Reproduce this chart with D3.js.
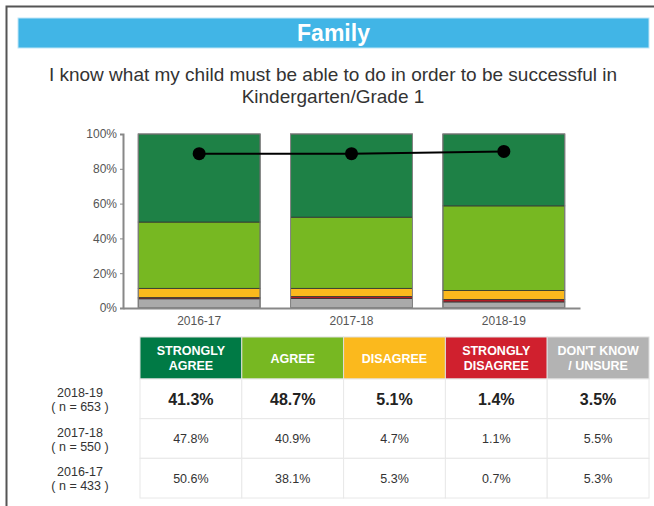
<!DOCTYPE html>
<html>
<head>
<meta charset="utf-8">
<script src="https://cdn.jsdelivr.net/npm/d3@7"></script>
<style>
  body { margin: 0; background: #fff; }
  svg { display: block; font-family: "Liberation Sans", Arial, sans-serif; }
</style>
</head>
<body>
<div id="chart"></div>
<script>
// years on the chart, oldest first
const years = ['2016-17', '2017-18', '2018-19'];
const sampleSizes = [433, 550, 653];

// response categories (table order) and their values per year
const categories = ['STRONGLY AGREE', 'AGREE', 'DISAGREE', 'STRONGLY DISAGREE', "DON'T KNOW / UNSURE"];
const headerLines = [['STRONGLY', 'AGREE'], ['AGREE'], ['DISAGREE'], ['STRONGLY', 'DISAGREE'], ["DON'T KNOW", '/ UNSURE']];
const stronglyAgree = [50.6, 47.8, 41.3];
const agree = [38.1, 40.9, 48.7];
const disagree = [5.3, 4.7, 5.1];
const stronglyDisagree = [0.7, 1.1, 1.4];
const unsure = [5.3, 5.5, 3.5];

const yTicks = [0, 20, 40, 60, 80, 100];

const barColors = ['#1e8146', '#77b822', '#fbb91d', '#b31b25', '#aaaaaa'];
const headColors = ['#007a45', '#77b822', '#fbb91d', '#d0202e', '#b3b3b3'];

const seriesValues = [stronglyAgree, agree, disagree, stronglyDisagree, unsure];

var width = 654, height = 506;

var svg = d3.select('#chart').append('svg')
  .attr('width', width)
  .attr('height', height);

// outer frame (runs off the right edge)
svg.append('path')
  .attr('d', 'M6.5,' + height + 'V6.5H' + width)
  .attr('fill', 'none')
  .attr('stroke', '#555')
  .attr('stroke-width', 2);

// title band
svg.append('rect')
  .attr('x', 18).attr('y', 18).attr('width', 631).attr('height', 30)
  .attr('fill', '#41b5e6')
  .attr('stroke', '#bfe6f7').attr('stroke-width', 1);
svg.append('text')
  .attr('x', 333.5).attr('y', 41)
  .attr('text-anchor', 'middle')
  .attr('fill', '#fff')
  .attr('font-size', 23).attr('font-weight', 'bold')
  .text('Family');

svg.append('text')
  .attr('text-anchor', 'middle')
  .attr('fill', '#333')
  .attr('font-size', 19)
  .selectAll('tspan')
  .data(['I know what my child must be able to do in order to be successful in', 'Kindergarten/Grade 1'])
  .enter().append('tspan')
  .attr('x', 333).attr('y', (d, i) => 81 + i * 22)
  .text(d => d);

// ---- stacked bars ----
var x = d3.scaleBand().domain(years).range([123, 580]).paddingInner(0.2).paddingOuter(0.1);
var y = d3.scaleLinear().domain([0, 100]).range([308, 134]);

// stack from the bottom: unsure, strongly disagree, disagree, agree, strongly agree
var rows = years.map((yr, i) => {
  var o = { year: yr };
  categories.forEach((c, j) => { o[c] = seriesValues[j][i]; });
  return o;
});
var stackKeys = categories.slice().reverse();
var stacked = d3.stack().keys(stackKeys)(rows);

var g = svg.append('g');
g.selectAll('g.layer')
  .data(stacked)
  .enter().append('g')
  .attr('class', 'layer')
  .attr('fill', d => barColors[categories.indexOf(d.key)])
  .selectAll('rect')
  .data(d => d)
  .enter().append('rect')
  .attr('x', d => x(d.data.year))
  .attr('width', x.bandwidth())
  .attr('y', d => y(d[1]))
  .attr('height', d => y(d[0]) - y(d[1]))
  .attr('stroke', '#333')
  .attr('stroke-width', 0.8);

g.selectAll('rect.outline')
  .data(years)
  .enter().append('rect')
  .attr('class', 'outline')
  .attr('x', d => x(d))
  .attr('width', x.bandwidth())
  .attr('y', y(100))
  .attr('height', y(0) - y(100))
  .attr('fill', 'none')
  .attr('stroke', '#888')
  .attr('stroke-width', 1);

// axes
var yAxis = svg.append('g')
  .attr('transform', 'translate(123,0)')
  .call(d3.axisLeft(y).tickValues(yTicks).tickSize(3).tickFormat(d => d + '%'));
yAxis.select('.domain').attr('stroke', '#888').attr('stroke-width', 2);
yAxis.selectAll('.tick line').attr('stroke', '#888');
yAxis.selectAll('text').attr('font-size', 12).attr('fill', '#555').attr('font-family', 'Liberation Sans, Arial, sans-serif');

var xAxis = svg.append('g')
  .attr('transform', 'translate(0,308)')
  .call(d3.axisBottom(x).tickSize(0).tickPadding(8));
xAxis.select('.domain').attr('stroke', '#888').attr('stroke-width', 2);
xAxis.selectAll('text').attr('font-size', 12).attr('fill', '#555').attr('font-family', 'Liberation Sans, Arial, sans-serif');

// agreement line (strongly agree + agree)
var totals = years.map((yr, i) => ({ year: yr, v: stronglyAgree[i] + agree[i] }));
svg.append('path')
  .datum(totals)
  .attr('fill', 'none')
  .attr('stroke', '#000')
  .attr('stroke-width', 2)
  .attr('d', d3.line().x(d => x(d.year) + x.bandwidth() / 2).y(d => y(d.v)));
svg.selectAll('circle.dot')
  .data(totals)
  .enter().append('circle')
  .attr('class', 'dot')
  .attr('cx', d => x(d.year) + x.bandwidth() / 2)
  .attr('cy', d => y(d.v))
  .attr('r', 6.5)
  .attr('fill', '#000');

// ---- table ----
var tableYears = years.slice().reverse();
var col = d3.scaleBand().domain(categories).range([140, 649]);
var row = d3.scaleBand().domain(tableYears).range([379, 498]);
var headTop = 337;

var head = svg.append('g');
head.selectAll('rect')
  .data(categories)
  .enter().append('rect')
  .attr('x', d => col(d))
  .attr('y', headTop)
  .attr('width', col.bandwidth())
  .attr('height', row.range()[0] - headTop)
  .attr('fill', (d, i) => headColors[i])
  .attr('stroke', '#ddd')
  .attr('stroke-width', 1);
head.selectAll('text')
  .data(categories)
  .enter().append('text')
  .attr('text-anchor', 'middle')
  .attr('fill', '#fff')
  .attr('font-size', 12.5)
  .attr('font-weight', 'bold')
  .each(function (d, i) {
    var lines = headerLines[i];
    var mid = headTop + (row.range()[0] - headTop) / 2;
    d3.select(this).selectAll('tspan')
      .data(lines)
      .enter().append('tspan')
      .attr('x', col(d) + col.bandwidth() / 2)
      .attr('y', (t, k) => mid + 4.5 + (k - (lines.length - 1) / 2) * 15)
      .text(t => t);
  });

var body = svg.append('g');
tableYears.forEach((yr, r) => {
  var yi = years.indexOf(yr);
  var big = r === 0;
  var cy = row(yr) + row.bandwidth() / 2;
  categories.forEach((c, j) => {
    body.append('rect')
      .attr('x', col(c))
      .attr('y', row(yr))
      .attr('width', col.bandwidth())
      .attr('height', row.bandwidth())
      .attr('fill', '#fff')
      .attr('stroke', '#e8e8e8')
      .attr('stroke-width', 1);
    body.append('text')
      .attr('x', col(c) + col.bandwidth() / 2)
      .attr('y', cy + (big ? 6 : 4.5))
      .attr('text-anchor', 'middle')
      .attr('fill', big ? '#222' : '#333')
      .attr('font-size', big ? 16 : 12.5)
      .attr('font-weight', big ? 'bold' : 'normal')
      .text(seriesValues[j][yi].toFixed(1) + '%');
  });
  body.append('text')
    .attr('text-anchor', 'middle')
    .attr('fill', '#333')
    .attr('font-size', 12.5)
    .selectAll('tspan')
    .data([yr, '( n = ' + sampleSizes[yi] + ' )'])
    .enter().append('tspan')
    .attr('x', 80)
    .attr('y', (t, k) => cy - 2 + k * 14)
    .text(t => t);
});
</script>
</body>
</html>
